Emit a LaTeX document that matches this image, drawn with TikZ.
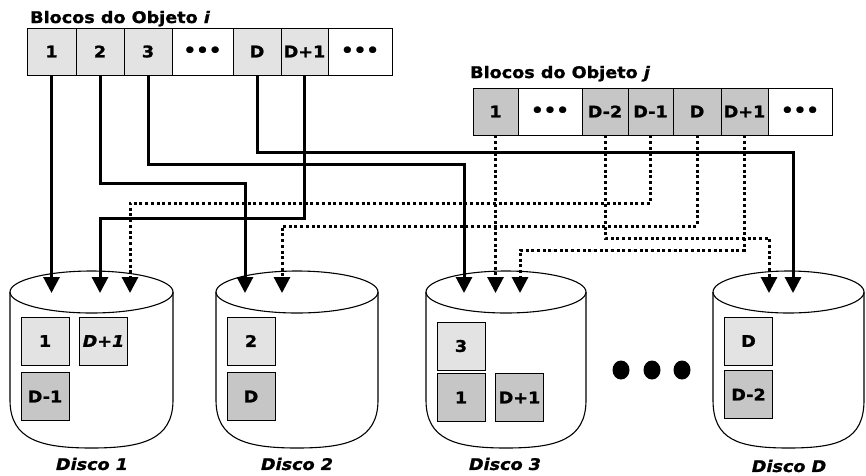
\documentclass[tikz,border=0pt]{standalone}
\usepackage{fontspec}
\setmainfont{DejaVu Sans}[FakeStretch=1.1, BoldFeatures={FakeBold=1.2}, BoldItalicFeatures={FakeBold=1.2}]
\usetikzlibrary{arrows.meta}
\begin{document}
\begin{tikzpicture}[x=1pt,y=-1pt,
  cellbase/.style={draw, line width=0.8pt, minimum height=47pt, inner sep=0pt,
    font=\bfseries\fontsize{16}{16}\selectfont},
  cellA/.style={cellbase, fill=gray!22},
  cellB/.style={cellbase, fill=gray!45},
  cellW/.style={cellbase, fill=white, font=\bfseries\fontsize{18}{18}\selectfont},
  dblk/.style={cellbase, minimum width=48pt, minimum height=48pt},
  title/.style={font=\bfseries\fontsize{16}{16}\selectfont, inner sep=0pt},
  dlabel/.style={font=\bfseries\itshape\fontsize{16}{16}\selectfont, inner sep=0pt},
  diskline/.style={line width=1.1pt},
  solidarrow/.style={line width=3pt, -{Triangle[width=16pt,length=16pt]}},
  dotarrow/.style={solidarrow, dash pattern=on 3pt off 2.7pt}
]
\useasboundingbox (0,0) rectangle (866,475);
\fill[white] (0,0) rectangle (866,475);

% titles
\node[title, anchor=base west] (ti) at (30,23) {Blocos do Objeto \textit{i}};
\node[title, anchor=base west] (tj) at (470,78) {Blocos do Objeto \textit{j}};

% object i row
\node[cellA, minimum width=49pt] (i1)  at (51.5,51.5) {1};
\node[cellA, minimum width=48pt] (i2)  at (100,51.5) {2};
\node[cellA, minimum width=48pt] (i3)  at (148,51.5) {3};
\node[cellW, minimum width=61pt] (id1) at (202.5,51.5) {•••};
\node[cellA, minimum width=48pt] (iD)  at (257,51.5) {D};
\node[cellA, minimum width=47pt] (iDp) at (304.5,51.5) {D+1};
\node[cellW, minimum width=64pt] (id2) at (360,51.5) {•••};

% object j row
\node[cellB, minimum width=45pt] (j1)   at (495.5,111.5) {1};
\node[cellW, minimum width=64pt] (jd1)  at (550,111.5) {•••};
\node[cellB, minimum width=46pt] (jDm2) at (605,111.5) {D-2};
\node[cellB, minimum width=45pt] (jDm1) at (650.5,111.5) {D-1};
\node[cellB, minimum width=48pt] (jD)   at (697,111.5) {D};
\node[cellB, minimum width=47pt] (jDp)  at (744.5,111.5) {D+1};
\node[cellW, minimum width=64pt] (jd2)  at (800,111.5) {•••};

% disks
\foreach \L/\R in {10/173, 216/378, 426/586, 713/864}{
  \pgfmathsetmacro\cx{(\L+\R)/2}
  \pgfmathsetmacro\rx{(\R-\L)/2}
  \draw[diskline] (\L,292) -- (\L,400) .. controls (\L,440) and (\cx-50,448) .. (\cx,448)
     .. controls (\cx+50,448) and (\R,440) .. (\R,400) -- (\R,292);
  \draw[diskline] (\cx,292) ellipse [x radius=\rx, y radius=21];
}

% blocks inside disks
\node[dblk, fill=gray!22] (a1)  at (45,341) {1};
\node[dblk, fill=gray!22] (a2)  at (103.5,341) {\itshape D+1};
\node[dblk, fill=gray!45] (a3)  at (45,396.5) {D-1};
\node[dblk, fill=gray!22] (b1)  at (251,341) {2};
\node[dblk, fill=gray!45] (b2)  at (251,396.5) {D};
\node[dblk, fill=gray!22] (c1)  at (461,346) {3};
\node[dblk, fill=gray!45] (c2)  at (461,397.5) {1};
\node[dblk, fill=gray!45] (c3)  at (519.5,397.5) {D+1};
\node[dblk, fill=gray!22] (e1)  at (748.5,341) {D};
\node[dblk, fill=gray!45] (e2)  at (748.5,394.5) {D-2};

% big dots
\fill (621,370) ellipse [x radius=8.5, y radius=9.5];
\fill (652,370) ellipse [x radius=8.5, y radius=9.5];
\fill (682,370) ellipse [x radius=8.5, y radius=9.5];

% disk labels
\node[dlabel] (l1) at (92,464) {Disco 1};
\node[dlabel] (l2) at (297,464) {Disco 2};
\node[dlabel] (l3) at (505,464) {Disco 3};
\node[dlabel] (l4) at (789,466) {Disco D};

% arrow targets
\coordinate (d1a) at (51.5,293);
\coordinate (d1b) at (100,293);
\coordinate (d1c) at (130,293);
\coordinate (d2a) at (245,293);
\coordinate (d2b) at (282,293);
\coordinate (d3a) at (464,293);
\coordinate (d3b) at (495.5,293);
\coordinate (d3c) at (520,293);
\coordinate (dDa) at (769,293);
\coordinate (dDb) at (793,293);

% solid connectors (object i)
\draw[solidarrow] (i1.south) -- (d1a);
\draw[solidarrow] (i2.south) |- (d2a |- 0,183) -- (d2a);
\draw[solidarrow] (i3.south) |- (d3a |- 0,164) -- (d3a);
\draw[solidarrow] (iD.south) |- (dDb |- 0,152) -- (dDb);
\draw[solidarrow] (iDp.south) |- (d1b |- 0,218) -- (d1b);

% dotted connectors (object j)
\draw[dotarrow] (j1.south) -- (d3b);
\draw[dotarrow] (jDm2.south) |- (dDa |- 0,238) -- (dDa);
\draw[dotarrow] (jDm1.south) |- (d1c |- 0,203) -- (d1c);
\draw[dotarrow] (jD.south) |- (d2b |- 0,226) -- (d2b);
\draw[dotarrow] (jDp.south) |- (d3c |- 0,250) -- (d3c);
\end{tikzpicture}
\end{document}
